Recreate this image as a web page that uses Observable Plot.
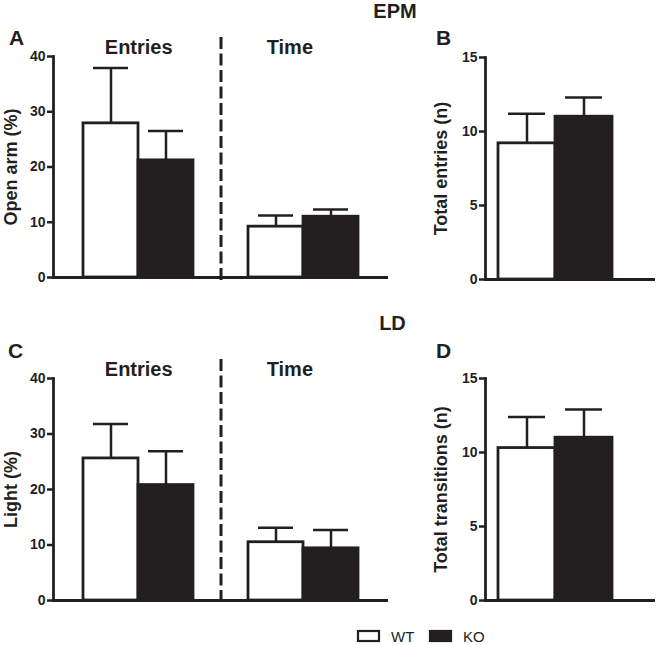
<!DOCTYPE html>
<html>
<head>
<meta charset="utf-8">
<script src="https://cdn.jsdelivr.net/npm/d3@7"></script>
<script src="https://cdn.jsdelivr.net/npm/@observablehq/plot@0.6"></script>
<style>
  body { margin: 0; background: #fff; }
  #fig { position: relative; width: 658px; height: 645px; background: #fff; overflow: hidden; }
  #fig svg { position: absolute; }
  #fig g[aria-label="y-axis tick label"] text { font-weight: bold; }
</style>
</head>
<body>
<div id="fig"></div>
<script>
// ---------- data ----------
const genotypes = ["WT", "KO"];
const measures = ["Entries", "Time"];
const tests = ["EPM", "LD"];
const panelLetters = ["A", "B", "C", "D"];
const pctLabels = ["Open arm (%)", "Light (%)"];
const totalLabels = ["Total entries (n)", "Total transitions (n)"];
const pctTicks = [0, 10, 20, 30, 40];
const totalTicks = [0, 5, 10, 15];

// EPM, open arm (%) — [WT, KO]
const epmEntriesMean = [27.9, 21.2];
const epmEntriesSem  = [10.0, 5.3];
const epmTimeMean    = [9.2, 11.0];
const epmTimeSem     = [2.0, 1.3];
// EPM, total entries (n)
const epmTotalMean   = [9.2, 11.0];
const epmTotalSem    = [2.0, 1.3];
// LD, light (%)
const ldEntriesMean  = [25.6, 20.8];
const ldEntriesSem   = [6.2, 6.1];
const ldTimeMean     = [10.5, 9.4];
const ldTimeSem      = [2.6, 3.3];
// LD, total transitions (n)
const ldTotalMean    = [10.3, 11.0];
const ldTotalSem     = [2.1, 1.9];

// ---------- style ----------
const ink = "#231f20";
const font = '"Liberation Sans", Arial, Helvetica, sans-serif';
const fig = document.getElementById("fig");

function place(svg, left, top) {
  svg.style.left = left + "px";
  svg.style.top = top + "px";
  fig.appendChild(svg);
}

function pctPanel({means, sems, ylabel, marginTop, marginBottom}) {
  const rows = [];
  measures.forEach((m, i) => genotypes.forEach((g, j) =>
    rows.push({key: `${m} ${g}`, measure: m, genotype: g, mean: means[i][j], sem: sems[i][j]})));
  const keysOf = m => genotypes.map(g => `${m} ${g}`);
  const slots = [...keysOf(measures[0]), "sep", ...keysOf(measures[1])];
  const range = [82, 359];
  const bw = (range[1] - range[0]) / slots.length;
  return Plot.plot({
    width: 390, height: 300,
    marginLeft: 53, marginRight: 2, marginTop, marginBottom,
    style: {fontFamily: font, color: ink, background: "transparent", overflow: "visible"},
    x: {type: "band", domain: slots, range, padding: 0, axis: null},
    y: {domain: [0, 40], axis: null},
    color: {domain: genotypes, range: ["#ffffff", ink]},
    marks: [
      Plot.ruleX(["sep"], {x: d => d, stroke: ink, strokeWidth: 3, strokeDasharray: "12,4.5", insetTop: -19, insetBottom: -6}),
      Plot.barY(rows, {x: "key", y: "mean", fill: "genotype", stroke: ink, strokeWidth: 2.8}),
      Plot.ruleX(rows, {x: "key", y1: "mean", y2: d => d.mean + d.sem, stroke: ink, strokeWidth: 2.5}),
      Plot.tickY(rows, {x: "key", y: d => d.mean + d.sem, inset: 10, stroke: ink, strokeWidth: 2.5}),
      Plot.frame({anchor: "left", stroke: ink, strokeWidth: 2.8}),
      Plot.ruleY([0], {stroke: ink, strokeWidth: 2.8}),
      Plot.axisY(pctTicks, {tickSize: 6, tickPadding: 2, fontSize: 14, fontWeight: "bold", strokeWidth: 2.5, label: null}),
      Plot.text([ylabel], {frameAnchor: "left", textAnchor: "middle", rotate: -90, dx: -42, fontSize: 18, fontWeight: "bold", fill: ink}),
      Plot.text([measures[0]], {x: m => `${m} ${genotypes[0]}`, frameAnchor: "top", dx: bw / 2, dy: -3, lineAnchor: "bottom", fontSize: 20, fontWeight: "bold", fill: ink}),
      Plot.text([measures[1]], {x: m => `${m} ${genotypes[0]}`, frameAnchor: "top", dx: bw / 4, dy: -3, lineAnchor: "bottom", fontSize: 20, fontWeight: "bold", fill: ink})
    ]
  });
}

function totalPanel({means, sems, ylabel, marginTop, marginBottom}) {
  const rows = genotypes.map((g, j) => ({genotype: g, mean: means[j], sem: sems[j]}));
  return Plot.plot({
    width: 238, height: 300,
    marginLeft: 65, marginRight: 3, marginTop, marginBottom,
    style: {fontFamily: font, color: ink, background: "transparent", overflow: "visible"},
    x: {type: "band", domain: genotypes, range: [78, 192], padding: 0, axis: null},
    y: {domain: [0, 15], axis: null},
    color: {domain: genotypes, range: ["#ffffff", ink]},
    marks: [
      Plot.barY(rows, {x: "genotype", y: "mean", fill: "genotype", stroke: ink, strokeWidth: 2.8}),
      Plot.ruleX(rows, {x: "genotype", y1: "mean", y2: d => d.mean + d.sem, stroke: ink, strokeWidth: 2.5}),
      Plot.tickY(rows, {x: "genotype", y: d => d.mean + d.sem, inset: 10, stroke: ink, strokeWidth: 2.5}),
      Plot.frame({anchor: "left", stroke: ink, strokeWidth: 2.8}),
      Plot.ruleY([0], {stroke: ink, strokeWidth: 2.8}),
      Plot.axisY(totalTicks, {tickSize: 6, tickPadding: 2, fontSize: 14, fontWeight: "bold", strokeWidth: 2.5, label: null}),
      Plot.text([ylabel], {frameAnchor: "left", textAnchor: "middle", rotate: -90, dx: -44, fontSize: 18, fontWeight: "bold", fill: ink})
    ]
  });
}

place(pctPanel({means: [epmEntriesMean, epmTimeMean], sems: [epmEntriesSem, epmTimeSem], ylabel: pctLabels[0], marginTop: 56, marginBottom: 23}), 0, 0);
place(totalPanel({means: epmTotalMean, sems: epmTotalSem, ylabel: totalLabels[0], marginTop: 57, marginBottom: 21}), 420, 0);
place(pctPanel({means: [ldEntriesMean, ldTimeMean], sems: [ldEntriesSem, ldTimeSem], ylabel: pctLabels[1], marginTop: 57, marginBottom: 21}), 0, 321);
place(totalPanel({means: ldTotalMean, sems: ldTotalSem, ylabel: totalLabels[1], marginTop: 57, marginBottom: 21}), 420, 321);

// ---------- headings, panel letters and legend ----------
const over = d3.select(fig).append("svg")
  .attr("width", 658).attr("height", 645)
  .style("left", "0px").style("top", "0px")
  .attr("font-family", font).attr("fill", ink);

const testPos = [[395, 18], [392.5, 330]];
tests.forEach((t, i) => over.append("text")
  .attr("x", testPos[i][0]).attr("y", testPos[i][1])
  .attr("text-anchor", "middle").attr("font-size", 20).attr("font-weight", "bold").text(t));

const letterPos = [[9, 45], [436, 45], [8, 358], [436, 358]];
panelLetters.forEach((l, i) => over.append("text")
  .attr("x", letterPos[i][0]).attr("y", letterPos[i][1])
  .attr("font-size", 21).attr("font-weight", "bold").text(l));

const legend = over.append("g");
genotypes.forEach((g, i) => {
  const gx = 358 + i * 72;
  legend.append("rect").attr("x", gx).attr("y", 631).attr("width", 21).attr("height", 10)
    .attr("fill", i === 0 ? "#ffffff" : ink).attr("stroke", ink).attr("stroke-width", 2.2);
  legend.append("text").attr("x", gx + 33).attr("y", 642).attr("font-size", 15).text(g);
});
</script>
</body>
</html>
